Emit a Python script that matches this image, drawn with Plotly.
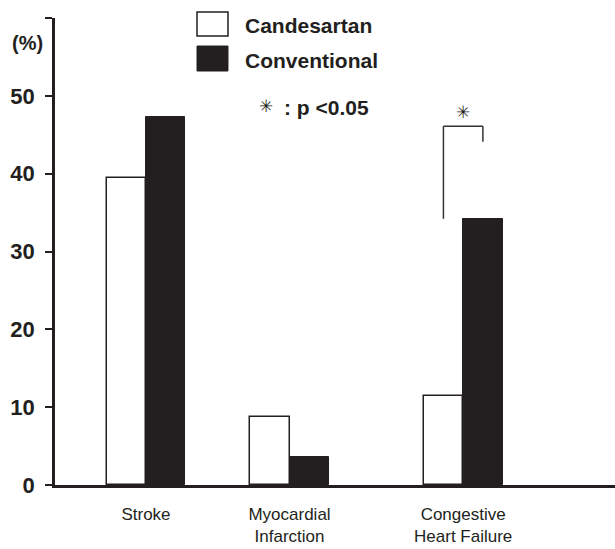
import plotly.graph_objects as go

categories = ["Stroke", "Myocardial<br>Infarction", "Congestive<br>Heart Failure"]
cat_pos = [1.0, 2.0, 3.21]
candesartan = [39.4, 8.7, 11.4]
conventional = [47.3, 3.6, 34.2]
y_ticks = [0, 10, 20, 30, 40, 50, 60]
y_tick_labels = ["0", "10", "20", "30", "40", "50", ""]
# significance bracket (left bottom, top, right bottom) in %
bracket = [34.2, 46.1, 44.1]

BW = 0.275
FONT_B = "Liberation Sans, Arial, sans-serif"
DARK = "#231f20"
STAR = "\u2733"
STAR_FONT = dict(family="DejaVu Sans", size=17, color=DARK)

fig = go.Figure()
fig.add_trace(go.Bar(x=cat_pos, y=candesartan, width=BW, offset=-BW,
                     marker=dict(color="white", line=dict(color=DARK, width=1.5)),
                     name="Candesartan", showlegend=False))
fig.add_trace(go.Bar(x=cat_pos, y=conventional, width=BW, offset=0,
                     marker=dict(color=DARK, line=dict(color=DARK, width=1)),
                     name="Conventional", showlegend=False))

# bracket
xl = cat_pos[2] - BW / 2
xr = cat_pos[2] + BW / 2
fig.add_shape(type="line", x0=xl, x1=xl, y0=bracket[0], y1=bracket[1],
              line=dict(color="#333", width=1.5))
fig.add_shape(type="line", x0=xl, x1=xr, y0=bracket[1], y1=bracket[1],
              line=dict(color="#333", width=1.5))
fig.add_shape(type="line", x0=xr, x1=xr, y0=bracket[1], y1=bracket[2],
              line=dict(color="#333", width=1.5))
fig.add_annotation(x=cat_pos[2], y=bracket[1], yshift=14, text=STAR, showarrow=False,
                   font=STAR_FONT)

# legend (manual)
fig.add_shape(type="rect", xref="paper", yref="paper", x0=0.2536, x1=0.3089,
              y0=0.9615, y1=1.0128, fillcolor="white", line=dict(color=DARK, width=1.5))
fig.add_shape(type="rect", xref="paper", yref="paper", x0=0.2536, x1=0.3089,
              y0=0.8865, y1=0.940, fillcolor=DARK, line=dict(color=DARK, width=1))
fig.add_annotation(xref="paper", yref="paper", x=0.3357, y=0.9829, xanchor="left",
                   yanchor="middle", text="<b>Candesartan</b>", showarrow=False,
                   font=dict(family=FONT_B, size=21, color=DARK))
fig.add_annotation(xref="paper", yref="paper", x=0.3357, y=0.910, xanchor="left",
                   yanchor="middle", text="<b>Conventional</b>", showarrow=False,
                   font=dict(family=FONT_B, size=21, color=DARK))
fig.add_annotation(xref="paper", yref="paper", x=0.3768, y=0.812, xanchor="center",
                   yanchor="middle", text=STAR, showarrow=False,
                   font=STAR_FONT)
fig.add_annotation(xref="paper", yref="paper", x=0.405, y=0.8094, xanchor="left",
                   yanchor="middle", text="<b>: p <0.05</b>", showarrow=False,
                   font=dict(family=FONT_B, size=21, color=DARK))
fig.add_annotation(xref="paper", yref="paper", x=-0.049, y=0.9465, xanchor="center",
                   yanchor="middle", text="<b>(%)</b>", showarrow=False,
                   font=dict(family=FONT_B, size=20, color=DARK))

fig.update_layout(
    width=615, height=549,
    margin=dict(l=55, r=0, t=18, b=64, autoexpand=False),
    plot_bgcolor="white", paper_bgcolor="white",
    bargap=0,
    xaxis=dict(range=[0.366, 4.268], tickvals=cat_pos, ticktext=categories,
               showline=True, linecolor=DARK, linewidth=2.5, ticks="",
               showgrid=False, zeroline=False, ticklabelstandoff=12, automargin=False,
               tickfont=dict(family=FONT_B, size=17, color=DARK)),
    yaxis=dict(range=[0, 60], tickvals=y_ticks, ticktext=y_tick_labels,
               showline=True, linecolor=DARK, linewidth=2.5, ticks="outside",
               ticklen=7, tickwidth=1.5, tickcolor=DARK, showgrid=False,
               zeroline=False, ticklabelstandoff=6, automargin=False,
               tickfont=dict(family=FONT_B, size=22, color=DARK, weight="bold")),
)

fig.write_html("out.html", config={"displayModeBar": False},
               post_script="document.body.style.margin='0';document.body.style.overflow='hidden';")
